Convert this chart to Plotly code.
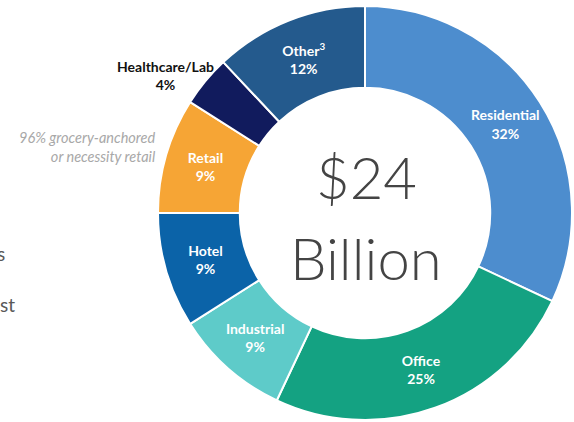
import plotly.graph_objects as go

# Portfolio mix by property type (share of $24 billion)
sectors = ["Residential", "Office", "Industrial", "Hotel", "Retail", "Healthcare/Lab", "Other"]
display_names = ["Residential", "Office", "Industrial", "Hotel", "Retail", "Healthcare/Lab", "Other<sup>3</sup>"]
shares = [32, 25, 9, 9, 9, 4, 12]
colors = ["#4D8DCE", "#14A282", "#5ECBC9", "#0B63A8", "#F6A535", "#111B5D", "#245A8D"]

W, H = 574, 422
cx, cy, R = 365, 213, 207  # pixel centre and radius of the ring

# Healthcare/Lab is too thin for an inside label, so it is labelled outside
inside_text = [f"{disp}<br>{v}%" for disp, v in zip(display_names, shares)]
text_pos = ["none" if name == "Healthcare/Lab" else "inside" for name in sectors]

fig = go.Figure(
    go.Pie(
        labels=sectors,
        values=shares,
        text=inside_text,
        textinfo="text",
        textposition=text_pos,
        insidetextorientation="horizontal",
        textfont=dict(family="Lato", size=14, color="white", weight="bold"),
        marker=dict(colors=colors, line=dict(color="white", width=2)),
        hole=0.605,
        sort=False,
        direction="clockwise",
        rotation=0,
        domain=dict(
            x=[(cx - R) / W, (cx + R) / W],
            y=[(H - cy - R) / H, (H - cy + R) / H],
        ),
        showlegend=False,
        hoverinfo="label+percent",
    )
)

hc_idx = sectors.index("Healthcare/Lab")
annotations = [
    # total in the hole
    dict(x=366 / W, y=1 - 177 / H, xanchor="center", text="$24", showarrow=False,
         font=dict(family="Lato", size=58, color="#444444", weight=300)),
    dict(x=366 / W, y=1 - 257 / H, xanchor="center", text="Billion", showarrow=False,
         font=dict(family="Lato", size=58, color="#444444", weight=300)),
    # outside label for the thin slice
    dict(x=165 / W, y=1 - 75 / H, xanchor="center", yanchor="middle",
         text=f"{sectors[hc_idx]}<br>{shares[hc_idx]}%", showarrow=False,
         font=dict(family="Lato", size=14, color="#111111", weight="bold")),
    # retail footnote
    dict(x=158 / W, y=1 - 147 / H, xanchor="right", yanchor="middle",
         text="<i>96% grocery-anchored</i><br><i>or necessity retail</i>",
         align="right", showarrow=False,
         font=dict(family="Lato", size=14.5, color="#A8A8A8")),
    # tails of the neighbouring panel text
    dict(x=7 / W, y=1 - 253 / H, xanchor="right", text="s", showarrow=False,
         font=dict(family="Lato", size=19, color="#595959")),
    dict(x=17 / W, y=1 - 318 / H, xanchor="right", text="st", showarrow=False,
         font=dict(family="Lato", size=19, color="#595959")),
]

fig.update_layout(
    width=W,
    height=H,
    margin=dict(l=0, r=0, t=0, b=0),
    paper_bgcolor="white",
    plot_bgcolor="white",
    annotations=annotations,
)

fig.write_html("out.html")
